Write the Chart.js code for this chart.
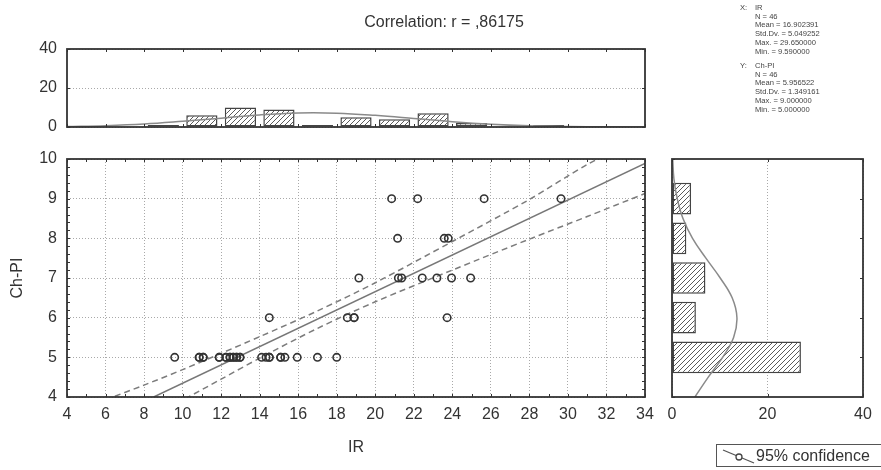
<!DOCTYPE html>
<html>
<head>
<meta charset="utf-8">
<script src="https://cdn.jsdelivr.net/npm/chart.js@4.4.1/dist/chart.umd.min.js"></script>
<style>
  html, body { margin: 0; padding: 0; background: #fff; }
  body { width: 881px; height: 470px; position: relative; overflow: hidden;
         font-family: Arial, "Liberation Sans", sans-serif; color: #333; }
  .layer { position: absolute; left: 0; top: 0; }
  #title { position: absolute; left: 324px; width: 240px; top: 13px; line-height: 18px;
           text-align: center; font-size: 16px; }
  .stats { position: absolute; font-size: 7.6px; line-height: 8.7px; color: #444; white-space: pre; }
  #legend { position: absolute; left: 716px; top: 444px; width: 180px; height: 23px;
            border: 1px solid #555; box-sizing: border-box; font-size: 16px; line-height: 22px; }
  #legend svg { position: absolute; left: 4px; top: 2px; }
  #legend span { position: absolute; left: 39px; top: 0; }
</style>
</head>
<body>
<canvas id="mainChart" class="layer" width="881" height="470"></canvas>
<canvas id="topHist" class="layer" width="881" height="470"></canvas>
<canvas id="rightHist" class="layer" width="881" height="470"></canvas>

<div id="title">Correlation: r = ,86175</div>
<div class="stats" style="left:740px; top:4px;">X:</div>
<div class="stats" style="left:755px; top:4px;">IR
N = 46
Mean = 16.902391
Std.Dv. = 5.049252
Max. = 29.650000
Min. = 9.590000</div>
<div class="stats" style="left:740px; top:62px;">Y:</div>
<div class="stats" style="left:755px; top:62px;">Ch-PI
N = 46
Mean = 5.956522
Std.Dv. = 1.349161
Max. = 9.000000
Min. = 5.000000</div>

<div id="legend">
  <svg width="36" height="18" viewBox="0 0 36 18">
    <line x1="2" y1="3" x2="33" y2="16" stroke="#555" stroke-width="1.3"/>
    <circle cx="18" cy="10" r="3" fill="#fff" stroke="#444" stroke-width="1.3"/>
  </svg>
  <span>95% confidence</span>
</div>

<script>
// scatter data (IR vs Ch-PI), 46 cases
const irValues = [
  9.59, 10.86, 10.86, 11.07, 11.07, 11.9, 11.9, 12.25, 12.25, 12.46, 12.46, 12.63, 12.63,
  12.8, 12.8, 12.98, 12.98, 14.1, 14.33, 14.5, 14.5, 15.09, 15.09, 15.31, 15.95, 17.0, 18.0,
  14.5, 18.55, 18.9, 18.9, 23.73,
  19.15, 21.2, 21.37, 22.44, 23.2, 23.96, 24.95,
  21.16, 23.58, 23.79,
  20.85, 22.2, 25.65, 29.64
];
const chPiValues = [
  5, 5, 5, 5, 5, 5, 5, 5, 5, 5, 5, 5, 5,
  5, 5, 5, 5, 5, 5, 5, 5, 5, 5, 5, 5, 5, 5,
  6, 6, 6, 6, 6,
  7, 7, 7, 7, 7, 7, 7,
  8, 8, 8,
  9, 9, 9, 9
];

// regression line and 95% confidence band
const fitX = [8.5, 34];
const fitY = [4, 9.89];
const ciX = [6, 8, 10, 12, 14, 17, 20, 24, 28, 31, 34];
const ciUpper = [3.93, 4.30, 4.69, 5.10, 5.52, 6.17, 6.88, 7.92, 8.98, 9.86, 10.6];
const ciLower = [2.90, 3.40, 3.92, 4.45, 4.98, 5.73, 6.40, 7.20, 7.98, 8.55, 9.13];

// top histogram (IR)
const irBinCenters = [9, 11, 13, 15, 17, 19, 21, 23, 25, 27, 29];
const irBinCounts = [1, 6, 10, 9, 1, 5, 4, 7, 2, 0, 1];
const irCurveX = [4, 6, 8, 10, 12, 14, 16, 18, 20, 22, 24, 26, 28, 30, 32, 34];
const irCurveY = [0.3, 0.7, 1.5, 2.9, 4.5, 6.2, 7.2, 7.1, 6.0, 4.4, 2.7, 1.4, 0.6, 0.25, 0.1, 0.02];

// right histogram (Ch-PI)
const chPiLevels = [5, 6, 7, 8, 9];
const chPiCounts = [27, 5, 7, 3, 4];
const chPiCurveY = [4, 4.5, 5, 5.5, 6, 6.5, 7, 7.5, 8, 8.5, 9, 9.5, 10];
const chPiCurveN = [4.8, 7.6, 10.6, 12.9, 13.6, 12.6, 10.1, 7.1, 4.3, 2.3, 1.1, 0.4, 0.15];

const ink = '#333';
const gridColor = '#a9a9a9';

Chart.defaults.font.family = 'Arial, "Liberation Sans", sans-serif';
Chart.defaults.font.size = 16;
Chart.defaults.color = ink;
Chart.defaults.animation = false;
Chart.defaults.responsive = false;
Chart.defaults.plugins.legend.display = false;
Chart.defaults.plugins.tooltip.enabled = false;

// box around the plot area with small inward tick marks
const framePlugin = {
  id: 'frame',
  afterDatasetsDraw(chart, args, opts) {
    const { ctx, chartArea: a, scales } = chart;
    const xs = scales.x, ys = scales.y;
    const len = opts.len || 3;
    ctx.save();
    ctx.strokeStyle = ink;
    ctx.lineWidth = 1;
    ctx.beginPath();
    if (opts.xStep) {
      for (let v = xs.min; v <= xs.max + 1e-9; v += opts.xStep) {
        const p = Math.round(xs.getPixelForValue(v)) + 0.5;
        ctx.moveTo(p, a.bottom); ctx.lineTo(p, a.bottom - len);
        ctx.moveTo(p, a.top); ctx.lineTo(p, a.top + len);
      }
    }
    if (opts.yStep) {
      for (let v = ys.min; v <= ys.max + 1e-9; v += opts.yStep) {
        const p = Math.round(ys.getPixelForValue(v)) + 0.5;
        ctx.moveTo(a.left, p); ctx.lineTo(a.left + len, p);
        ctx.moveTo(a.right, p); ctx.lineTo(a.right - len, p);
      }
    }
    ctx.stroke();
    ctx.lineWidth = 1.8;
    ctx.strokeRect(a.left, a.top, a.right - a.left, a.bottom - a.top);
    ctx.restore();
  }
};
Chart.register(framePlugin);

function hatchPattern() {
  const c = document.createElement('canvas');
  c.width = 5; c.height = 5;
  const g = c.getContext('2d');
  g.fillStyle = '#fff';
  g.fillRect(0, 0, 5, 5);
  g.strokeStyle = '#5a5a5a';
  g.lineWidth = 1;
  g.beginPath();
  g.moveTo(-1, 6); g.lineTo(6, -1);
  g.moveTo(-1, 1); g.lineTo(1, -1);
  g.moveTo(4, 6); g.lineTo(6, 4);
  g.stroke();
  return g.createPattern(c, 'repeat');
}
const hatch = hatchPattern();

function fixWidth(w) { return scale => { scale.width = w; }; }
function fixHeight(h) { return scale => { scale.height = h; }; }

const dotted = { display: false, dash: [1, 2] };

// 1. Main scatter plot
new Chart(document.getElementById('mainChart'), {
  type: 'scatter',
  data: {
    datasets: [
      {
        data: irValues.map((x, i) => ({ x, y: chPiValues[i] })),
        pointStyle: 'circle',
        pointRadius: 3.7,
        pointBorderWidth: 1.6,
        borderColor: ink,
        backgroundColor: 'rgba(0,0,0,0)',
        order: 1
      },
      {
        type: 'line',
        data: fitX.map((x, i) => ({ x, y: fitY[i] })),
        borderColor: '#777',
        borderWidth: 1.5,
        pointRadius: 0,
        order: 2
      },
      {
        type: 'line',
        data: ciX.map((x, i) => ({ x, y: ciUpper[i] })),
        borderColor: '#7c7c7c',
        borderWidth: 1.5,
        borderDash: [6, 4],
        pointRadius: 0,
        tension: 0.3,
        order: 3
      },
      {
        type: 'line',
        data: ciX.map((x, i) => ({ x, y: ciLower[i] })),
        borderColor: '#7c7c7c',
        borderWidth: 1.5,
        borderDash: [6, 4],
        pointRadius: 0,
        tension: 0.3,
        order: 3
      }
    ]
  },
  options: {
    layout: { padding: { left: 0, top: 159, right: 236, bottom: 0 } },
    scales: {
      x: {
        type: 'linear', min: 4, max: 34,
        ticks: { stepSize: 2, padding: 8, maxRotation: 0 },
        grid: { color: gridColor, drawTicks: false },
        border: dotted,
        title: { display: true, text: 'IR', padding: { top: 0, bottom: 13 } },
        afterFit: fixHeight(73)
      },
      y: {
        type: 'linear', min: 4, max: 10,
        ticks: { stepSize: 1, padding: 10 },
        grid: { color: gridColor, drawTicks: false },
        border: dotted,
        title: { display: true, text: 'Ch-PI', padding: { top: 8, bottom: 0 } },
        afterFit: fixWidth(67)
      }
    },
    plugins: { frame: { xStep: 1, yStep: 0.2, len: 3 } }
  }
});

// 2. Top histogram of IR
new Chart(document.getElementById('topHist'), {
  type: 'bar',
  data: {
    datasets: [
      {
        data: irBinCenters.map((x, i) => ({ x, y: irBinCounts[i] || null })),
        backgroundColor: hatch,
        borderColor: '#444',
        borderWidth: 1.5,
        borderSkipped: false,
        categoryPercentage: 1,
        barPercentage: 0.81,
        order: 2
      },
      {
        type: 'line',
        data: irCurveX.map((x, i) => ({ x, y: irCurveY[i] })),
        borderColor: '#8a8a8a',
        borderWidth: 1.5,
        pointRadius: 0,
        tension: 0.4,
        order: 1
      }
    ]
  },
  options: {
    layout: { padding: { left: 0, top: 49, right: 236, bottom: 343 } },
    scales: {
      x: {
        type: 'linear', min: 4, max: 34, offset: false,
        ticks: { display: false, stepSize: 2 },
        grid: { display: false, offset: false },
        border: { display: false },
        afterFit: fixHeight(0)
      },
      y: {
        type: 'linear', min: 0, max: 40,
        ticks: { stepSize: 20, padding: 10 },
        grid: { color: gridColor, drawTicks: false },
        border: dotted,
        afterFit: fixWidth(67)
      }
    },
    plugins: { frame: { xStep: 2, yStep: 20, len: 3 } }
  }
});

// 3. Right histogram of Ch-PI
new Chart(document.getElementById('rightHist'), {
  type: 'bar',
  data: {
    datasets: [
      {
        data: chPiLevels.map((y, i) => ({ x: chPiCounts[i], y })),
        backgroundColor: hatch,
        borderColor: '#444',
        borderWidth: 1.5,
        borderSkipped: false,
        categoryPercentage: 1,
        barPercentage: 0.8,
        order: 2
      },
      {
        type: 'line',
        indexAxis: 'y',
        data: chPiCurveY.map((y, i) => ({ x: chPiCurveN[i], y })),
        borderColor: '#8a8a8a',
        borderWidth: 1.5,
        pointRadius: 0,
        tension: 0.4,
        order: 1
      }
    ]
  },
  options: {
    indexAxis: 'y',
    layout: { padding: { left: 672, top: 159, right: 18, bottom: 0 } },
    scales: {
      x: {
        type: 'linear', min: 0, max: 40,
        ticks: { stepSize: 20, padding: 8 },
        grid: { color: gridColor, drawTicks: false },
        border: dotted,
        afterFit: fixHeight(73)
      },
      y: {
        type: 'linear', min: 4, max: 10, offset: false,
        ticks: { display: false, stepSize: 1 },
        grid: { display: false, offset: false },
        border: { display: false },
        afterFit: fixWidth(0)
      }
    },
    plugins: { frame: { xStep: 20, yStep: 1, len: 3 } }
  }
});
</script>
</body>
</html>
